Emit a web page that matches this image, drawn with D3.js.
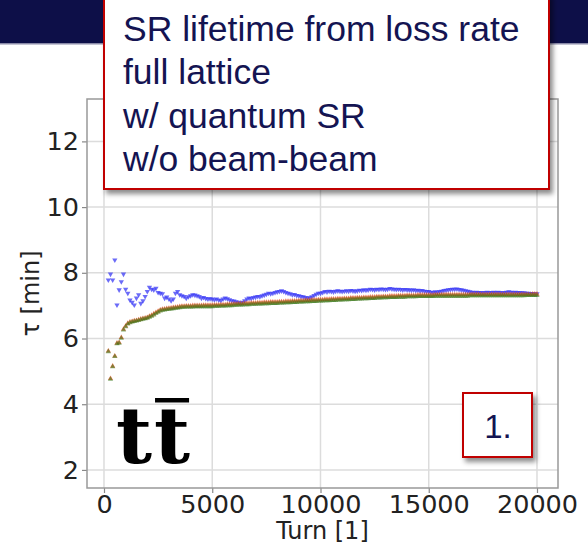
<!DOCTYPE html>
<html lang="en">
  <head>
    <meta charset="utf-8">
    <title>SR lifetime</title>
    <script src="https://d3js.org/d3.v7.min.js"></script>
    <style>
      body { margin: 0; background: #fff; }
      svg { display: block; }
    </style>
  </head>

  <body>

    <script>

// Data (turn step 100, from 200 to 20000)

  var turns = d3.range(200, 20001, 100);

  var tauBlue = [
    7.78, 7.96, 7.78, 8.39, 7.02, 7.48, 7.73, 7.96, 7.50,
    7.38, 7.17, 7.10, 7.02, 7.23, 7.33, 7.07, 7.15, 7.28, 7.43,
    7.56, 7.50, 7.48, 7.53, 7.40, 7.38, 7.36, 7.23, 7.26, 7.20,
    7.15, 7.20, 7.38, 7.43, 7.33, 7.30, 7.28, 7.23, 7.27, 7.30,
    7.33, 7.32, 7.30, 7.28, 7.23, 7.25, 7.22, 7.20, 7.21, 7.20,
    7.18, 7.20, 7.17, 7.16, 7.20, 7.23, 7.21, 7.18, 7.15, 7.14,
    7.12, 7.10, 7.08, 7.10, 7.15, 7.20, 7.23, 7.22, 7.25, 7.26,
    7.28, 7.27, 7.30, 7.32, 7.35, 7.38, 7.36, 7.38, 7.40, 7.42,
    7.43, 7.45, 7.43, 7.40, 7.38, 7.36, 7.33, 7.34, 7.31, 7.30,
    7.28, 7.27, 7.25, 7.23, 7.24, 7.27, 7.31, 7.35, 7.38, 7.38,
    7.40, 7.43, 7.42, 7.44, 7.43, 7.42, 7.44, 7.45, 7.44, 7.43,
    7.44, 7.45, 7.44, 7.46, 7.45, 7.44, 7.45, 7.47, 7.46, 7.48,
    7.47, 7.48, 7.50, 7.49, 7.48, 7.50, 7.49, 7.51, 7.50, 7.49,
    7.50, 7.52, 7.51, 7.50, 7.49, 7.50, 7.49, 7.48, 7.49, 7.48,
    7.48, 7.47, 7.48, 7.46, 7.47, 7.45, 7.46, 7.44, 7.43, 7.43,
    7.41, 7.40, 7.42, 7.41, 7.43, 7.44, 7.46, 7.47, 7.48, 7.49,
    7.50, 7.50, 7.51, 7.49, 7.48, 7.47, 7.45, 7.44, 7.42, 7.41,
    7.40, 7.41, 7.40, 7.40, 7.39, 7.40, 7.41, 7.40, 7.40, 7.41,
    7.40, 7.41, 7.40, 7.39, 7.40, 7.41, 7.42, 7.41, 7.40, 7.41,
    7.40, 7.40, 7.39, 7.39, 7.38, 7.38, 7.37, 7.37, 7.36, 7.36
  ];

  var tauRed = [
    5.62, 4.78, 5.16, 5.47, 5.86, 5.88, 6.03, 6.28, 6.38,
    6.46, 6.50, 6.52, 6.54, 6.55, 6.57, 6.59, 6.61, 6.62, 6.64,
    6.68, 6.71, 6.75, 6.79, 6.83, 6.87, 6.89, 6.90, 6.91, 6.92,
    6.93, 6.94, 6.95, 6.96, 6.97, 6.98, 6.98, 6.99, 6.99, 6.99,
    7.00, 7.00, 7.00, 7.00, 7.00, 7.01, 7.01, 7.01, 7.01, 7.01,
    7.02, 7.02, 7.02, 7.03, 7.03, 7.03, 7.04, 7.04, 7.04, 7.05,
    7.05, 7.06, 7.06, 7.06, 7.07, 7.07, 7.07, 7.08, 7.08, 7.08,
    7.09, 7.09, 7.09, 7.10, 7.10, 7.10, 7.11, 7.11, 7.11, 7.11,
    7.12, 7.12, 7.12, 7.13, 7.13, 7.13, 7.14, 7.14, 7.14, 7.15,
    7.15, 7.15, 7.16, 7.16, 7.16, 7.17, 7.17, 7.17, 7.18, 7.18,
    7.18, 7.19, 7.19, 7.19, 7.20, 7.20, 7.20, 7.21, 7.21, 7.21,
    7.22, 7.22, 7.22, 7.23, 7.23, 7.23, 7.24, 7.24, 7.24, 7.25,
    7.25, 7.25, 7.26, 7.26, 7.26, 7.27, 7.27, 7.27, 7.28, 7.28,
    7.28, 7.29, 7.29, 7.29, 7.29, 7.30, 7.30, 7.30, 7.30, 7.31,
    7.31, 7.31, 7.31, 7.31, 7.32, 7.32, 7.32, 7.32, 7.32, 7.32,
    7.32, 7.32, 7.33, 7.33, 7.33, 7.33, 7.33, 7.33, 7.33, 7.33,
    7.33, 7.33, 7.33, 7.33, 7.33, 7.33, 7.33, 7.33, 7.34, 7.34,
    7.34, 7.34, 7.34, 7.34, 7.34, 7.34, 7.34, 7.34, 7.34, 7.34,
    7.34, 7.34, 7.34, 7.34, 7.34, 7.34, 7.34, 7.34, 7.34, 7.34,
    7.34, 7.34, 7.34, 7.34, 7.34, 7.34, 7.34, 7.35, 7.35, 7.35
  ];

  var tauGreen = [
    5.60, 4.76, 5.14, 5.45, 5.84, 5.86, 6.01, 6.26, 6.36,
    6.44, 6.48, 6.50, 6.52, 6.53, 6.55, 6.57, 6.59, 6.60, 6.62,
    6.65, 6.68, 6.72, 6.76, 6.80, 6.84, 6.86, 6.87, 6.88, 6.89,
    6.90, 6.91, 6.92, 6.93, 6.94, 6.95, 6.95, 6.96, 6.96, 6.96,
    6.96, 6.97, 6.97, 6.97, 6.97, 6.97, 6.97, 6.97, 6.97, 6.97,
    6.98, 6.98, 6.98, 6.99, 6.99, 6.99, 7.00, 7.00, 7.00, 7.01,
    7.01, 7.02, 7.02, 7.02, 7.03, 7.03, 7.03, 7.04, 7.04, 7.04,
    7.05, 7.05, 7.05, 7.06, 7.06, 7.06, 7.07, 7.07, 7.07, 7.07,
    7.08, 7.08, 7.08, 7.09, 7.09, 7.09, 7.10, 7.10, 7.10, 7.11,
    7.11, 7.11, 7.12, 7.12, 7.12, 7.13, 7.13, 7.13, 7.14, 7.14,
    7.14, 7.15, 7.15, 7.15, 7.16, 7.16, 7.16, 7.17, 7.17, 7.17,
    7.18, 7.18, 7.18, 7.19, 7.19, 7.19, 7.20, 7.20, 7.20, 7.21,
    7.21, 7.21, 7.22, 7.22, 7.22, 7.23, 7.23, 7.23, 7.24, 7.24,
    7.24, 7.25, 7.25, 7.25, 7.25, 7.26, 7.26, 7.26, 7.26, 7.27,
    7.27, 7.27, 7.27, 7.27, 7.28, 7.28, 7.28, 7.28, 7.28, 7.28,
    7.28, 7.28, 7.29, 7.29, 7.29, 7.29, 7.29, 7.29, 7.29, 7.29,
    7.29, 7.29, 7.29, 7.29, 7.29, 7.29, 7.29, 7.29, 7.30, 7.30,
    7.30, 7.30, 7.30, 7.30, 7.30, 7.30, 7.30, 7.30, 7.30, 7.30,
    7.30, 7.30, 7.30, 7.30, 7.30, 7.30, 7.30, 7.30, 7.30, 7.30,
    7.30, 7.30, 7.30, 7.30, 7.31, 7.31, 7.31, 7.31, 7.31, 7.31
  ];

  var xTicks = [0, 5000, 10000, 15000, 20000];
  var yTicks = [2, 4, 6, 8, 10, 12];

  var boxLines = ["SR lifetime from loss rate", "full lattice", "w/ quantum SR", "w/o beam-beam"];

// Layout

  var W = 588, H = 553;
  var plotL = 87, plotR = 558, plotT = 99, plotB = 488;

  var svg = d3.select("body")
    .append("svg")
      .attr("width", W)
      .attr("height", H);

  var defs = svg.append("defs");
  var f = defs.append("filter").attr("id", "shadow")
      .attr("x", "-10%").attr("y", "-10%").attr("width", "130%").attr("height", "130%");
  f.append("feDropShadow")
      .attr("dx", 3).attr("dy", 4).attr("stdDeviation", 2.5)
      .attr("flood-color", "#000").attr("flood-opacity", 0.45);

  // slide header band
  svg.append("rect")
      .attr("x", 0).attr("y", 0)
      .attr("width", W).attr("height", 43)
      .attr("fill", "#0d0f48");
  svg.append("rect")
      .attr("x", 0).attr("y", 43)
      .attr("width", W).attr("height", 1.5)
      .attr("fill", "#8a8aa8");

  var x = d3.scaleLinear().domain([-785, 20970]).range([plotL, plotR]);
  var y = d3.scaleLinear().domain([1.45, 13.29]).range([plotB, plotT]);

  // grid
  svg.append("g").selectAll("line")
    .data(xTicks).enter().append("line")
      .attr("x1", d => x(d)).attr("x2", d => x(d))
      .attr("y1", plotT).attr("y2", plotB)
      .attr("stroke", "#dcdcdc").attr("stroke-width", 1.5);

  svg.append("g").selectAll("line")
    .data(yTicks).enter().append("line")
      .attr("x1", plotL).attr("x2", plotR)
      .attr("y1", d => y(d)).attr("y2", d => y(d))
      .attr("stroke", "#dcdcdc").attr("stroke-width", 1.5);

  // axes
  var xAxis = svg.append("g")
      .attr("transform", "translate(0," + plotB + ")")
      .call(d3.axisBottom(x).tickValues(xTicks).tickSize(5).tickPadding(2).tickFormat(d3.format("d")));

  var yAxis = svg.append("g")
      .attr("transform", "translate(" + plotL + ",0)")
      .call(d3.axisLeft(y).tickValues(yTicks).tickSize(5).tickPadding(3).tickFormat(d3.format("d")));

  [xAxis, yAxis].forEach(function (g) {
    g.select(".domain").remove();
    g.selectAll(".tick line").attr("stroke", "#888").attr("stroke-width", 1.2);
    g.selectAll(".tick text")
        .attr("fill", "#222")
        .style("font-family", "'DejaVu Sans', sans-serif")
        .style("font-size", "25.5px");
  });

  // frame
  svg.append("rect")
      .attr("x", plotL).attr("y", plotT)
      .attr("width", plotR - plotL).attr("height", plotB - plotT)
      .attr("fill", "none")
      .attr("stroke", "#999").attr("stroke-width", 1.5);

  // markers
  var tri = d3.symbol().type(d3.symbolTriangle).size(12);

  function drawSeries(vals, color, opacity, rot) {
    svg.append("g").selectAll("path")
      .data(vals).enter().append("path")
        .attr("d", tri)
        .attr("transform", (d, i) => "translate(" + x(turns[i]) + "," + y(d) + ") rotate(" + rot + ")")
        .attr("fill", color)
        .attr("fill-opacity", opacity);
  }

  drawSeries(tauBlue, "#3a3af5", 0.75, 180);
  drawSeries(tauRed, "#e84a1a", 0.7, 0);
  drawSeries(tauGreen, "#3c7a1c", 0.6, 0);

  // axis labels
  svg.append("text")
      .attr("x", (plotL + plotR) / 2)
      .attr("y", 539)
      .attr("text-anchor", "middle")
      .attr("fill", "#222")
      .style("font-family", "'DejaVu Sans', sans-serif")
      .style("font-size", "24px")
      .text("Turn [1]");

  svg.append("text")
      .attr("transform", "translate(39," + ((plotT + plotB) / 2) + ") rotate(-90)")
      .attr("text-anchor", "middle")
      .attr("fill", "#222")
      .style("font-family", "'DejaVu Sans', sans-serif")
      .style("font-size", "24px")
      .text("τ [min]");

  // t tbar label
  var tt = svg.append("g")
      .style("font-family", "'DejaVu Serif', serif")
      .style("font-weight", "bold")
      .style("font-size", "78px")
      .attr("fill", "#000");
  var t1 = tt.append("text").attr("x", 116).attr("y", 463).text("t");
  var w1 = t1.node().getComputedTextLength();
  var t2 = tt.append("text").attr("x", 116 + w1 + 2).attr("y", 463).text("t");
  var w2 = t2.node().getComputedTextLength();
  tt.append("rect")
      .attr("x", 116 + w1 + 3).attr("y", 398)
      .attr("width", w2 - 2).attr("height", 4.5)
      .attr("fill", "#000");

  // "1." box
  svg.append("rect")
      .attr("x", 463).attr("y", 393)
      .attr("width", 69).attr("height", 64)
      .attr("fill", "#fff")
      .attr("stroke", "#c00000").attr("stroke-width", 2)
      .attr("filter", "url(#shadow)");
  svg.append("text")
      .attr("x", 498).attr("y", 438)
      .attr("text-anchor", "middle")
      .attr("fill", "#141452")
      .style("font-family", "'Liberation Sans', Arial, sans-serif")
      .style("font-size", "33px")
      .text("1.");

  // description box
  svg.append("rect")
      .attr("x", 104).attr("y", -6)
      .attr("width", 445).attr("height", 195)
      .attr("fill", "#fff")
      .attr("stroke", "#c00000").attr("stroke-width", 2)
      .attr("filter", "url(#shadow)");

  svg.append("g").selectAll("text")
    .data(boxLines).enter().append("text")
      .attr("x", 123)
      .attr("y", (d, i) => 41 + i * 43.3)
      .attr("fill", "#141452")
      .style("font-family", "'Liberation Sans', Arial, sans-serif")
      .style("font-size", "35.5px")
      .text(d => d);

    </script>

  </body>

</html>
